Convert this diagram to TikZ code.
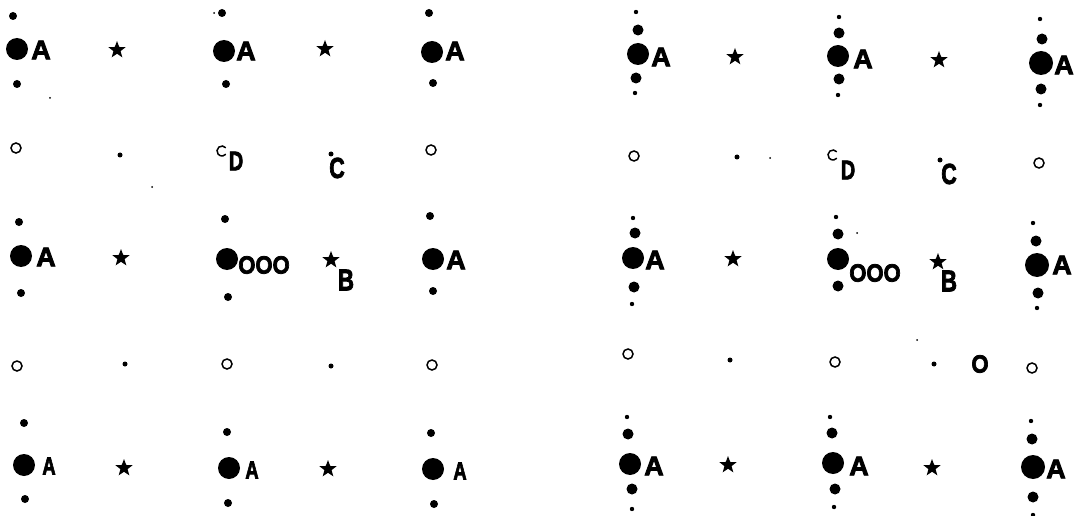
\documentclass[tikz,border=0pt]{standalone}
\usepackage{fontspec}
\setmainfont{Liberation Sans}
\newfontfamily\heavy{Liberation Sans}[BoldFeatures={FakeBold=3}]
\usetikzlibrary{shapes.geometric}

\begin{document}
\begin{tikzpicture}[x=1pt,y=-1pt,
  lbl/.style={inner sep=0pt,font=\fontsize{27}{27}\selectfont\heavy\bfseries},
  narrow/.style={inner sep=0pt,font=\fontsize{#1}{#1}\selectfont\heavy\bfseries,xscale=0.74},
  ring/.style={inner sep=0pt,font=\fontsize{25}{25}\selectfont\heavy\bfseries,xscale=0.88},
  starmark/.style={star,star points=5,star point ratio=2.4,fill=black,inner sep=0pt,minimum size=18pt},
  hollow/.style={draw=black,line width=1.5pt}
]
\useasboundingbox (0,0) rectangle (1082,516);

% left pattern: big dot with one small dot above and below
\foreach \p in {(17,49),(224,51),(432,52),(21,256),(227,259),(433,259),(24,465),(229,468),(433,469)}
  \fill \p circle[radius=11pt];
\foreach \p in {(13,16),(17,84),(222,13),(226,84),(429,13),(433,83),(19,222),(21,293),(225,219),(228,297),(430,216),(433,291),(24,423),(25,499),(227,432),(228,503),(431,433),(434,504)}
  \fill \p circle[radius=4pt];

% right pattern: big, medium and small dots in a column
\foreach \p in {(638,54),(838,56),(633,258),(838,259),(630,464),(833,463)}
  \fill \p circle[radius=11pt];
\foreach \p in {(1041,63),(1037,265),(1033,467)}
  \fill \p circle[radius=12pt];
\foreach \p in {(638,30),(636,78),(839,33),(839,79),(1042,39),(1041,89),(635,233),(634,287),(838,234),(838,286),(1036,241),(1038,293),(628,434),(632,489),(832,433),(835,489),(1032,439),(1033,497)}
  \fill \p circle[radius=5.5pt];
\foreach \p in {(636,12),(635,93),(839,17),(838,95),(1040,19),(1040,105),(633,218),(632,304),(836,217),(1033,223),(1037,308),(627,417),(632,509),(830,417),(834,507),(1031,421),(1033,515)}
  \fill \p circle[radius=2.2pt];

% dots and rings between the rows
\foreach \p in {(120,155),(331,154),(125,364),(331,366),(737,157),(940,160),(730,360),(934,364)}
  \fill \p circle[radius=2.5pt];
\foreach \p in {(16,148),(431,150),(17,366),(227,364),(432,365),(634,156),(1039,163),(628,354),(835,362),(1032,368)}
  \draw[hollow] \p circle[radius=5pt];
\foreach \p in {(222,151),(833,155)}
  \draw[hollow] \p ++(40:5pt) arc[start angle=40,end angle=320,radius=5pt];
\foreach \p in {(50,98),(214,13),(152,187),(770,158),(917,340),(857,233)}
  \fill \p circle[radius=1pt];

\foreach \n/\x/\y in {s1/117/50,s2/325/49,s3/121/258,s4/331/260,s5/124/468,s6/328/469,s7/735/57,s8/939/60,s9/733/259,s10/938/262,s11/728/465,s12/932/468}
  \node[starmark] (\n) at (\x,\y) {};

\foreach \n/\x/\y in {a1/41/50,a2/246/51,a3/455/51,a4/46/257,a5/456/260,a6/661/57,a7/863/59,a8/1064/65,a9/655/260,a10/1062/265,a11/654/466,a12/859/466,a13/1056/469}
  \node[lbl] (\n) at (\x,\y) {A};
\foreach \n/\x/\y in {a14/49/466,a15/252/470,a16/460/471}
  \node[narrow=25] (\n) at (\x,\y) {A};

\node[narrow=27] (d1) at (236,161) {D};
\node[narrow=27] (d2) at (848,170) {D};
\node[narrow=29] (c1) at (337,168) {C};
\node[narrow=29] (c2) at (949,174) {C};
\node[narrow=30] (b1) at (346,280) {B};
\node[narrow=30] (b2) at (949,281) {B};
\node[ring] (o1) at (264,265) {OOO};
\node[ring] (o2) at (875,273) {OOO};
\node[ring] (o3) at (980,364) {O};
\end{tikzpicture}
\end{document}
